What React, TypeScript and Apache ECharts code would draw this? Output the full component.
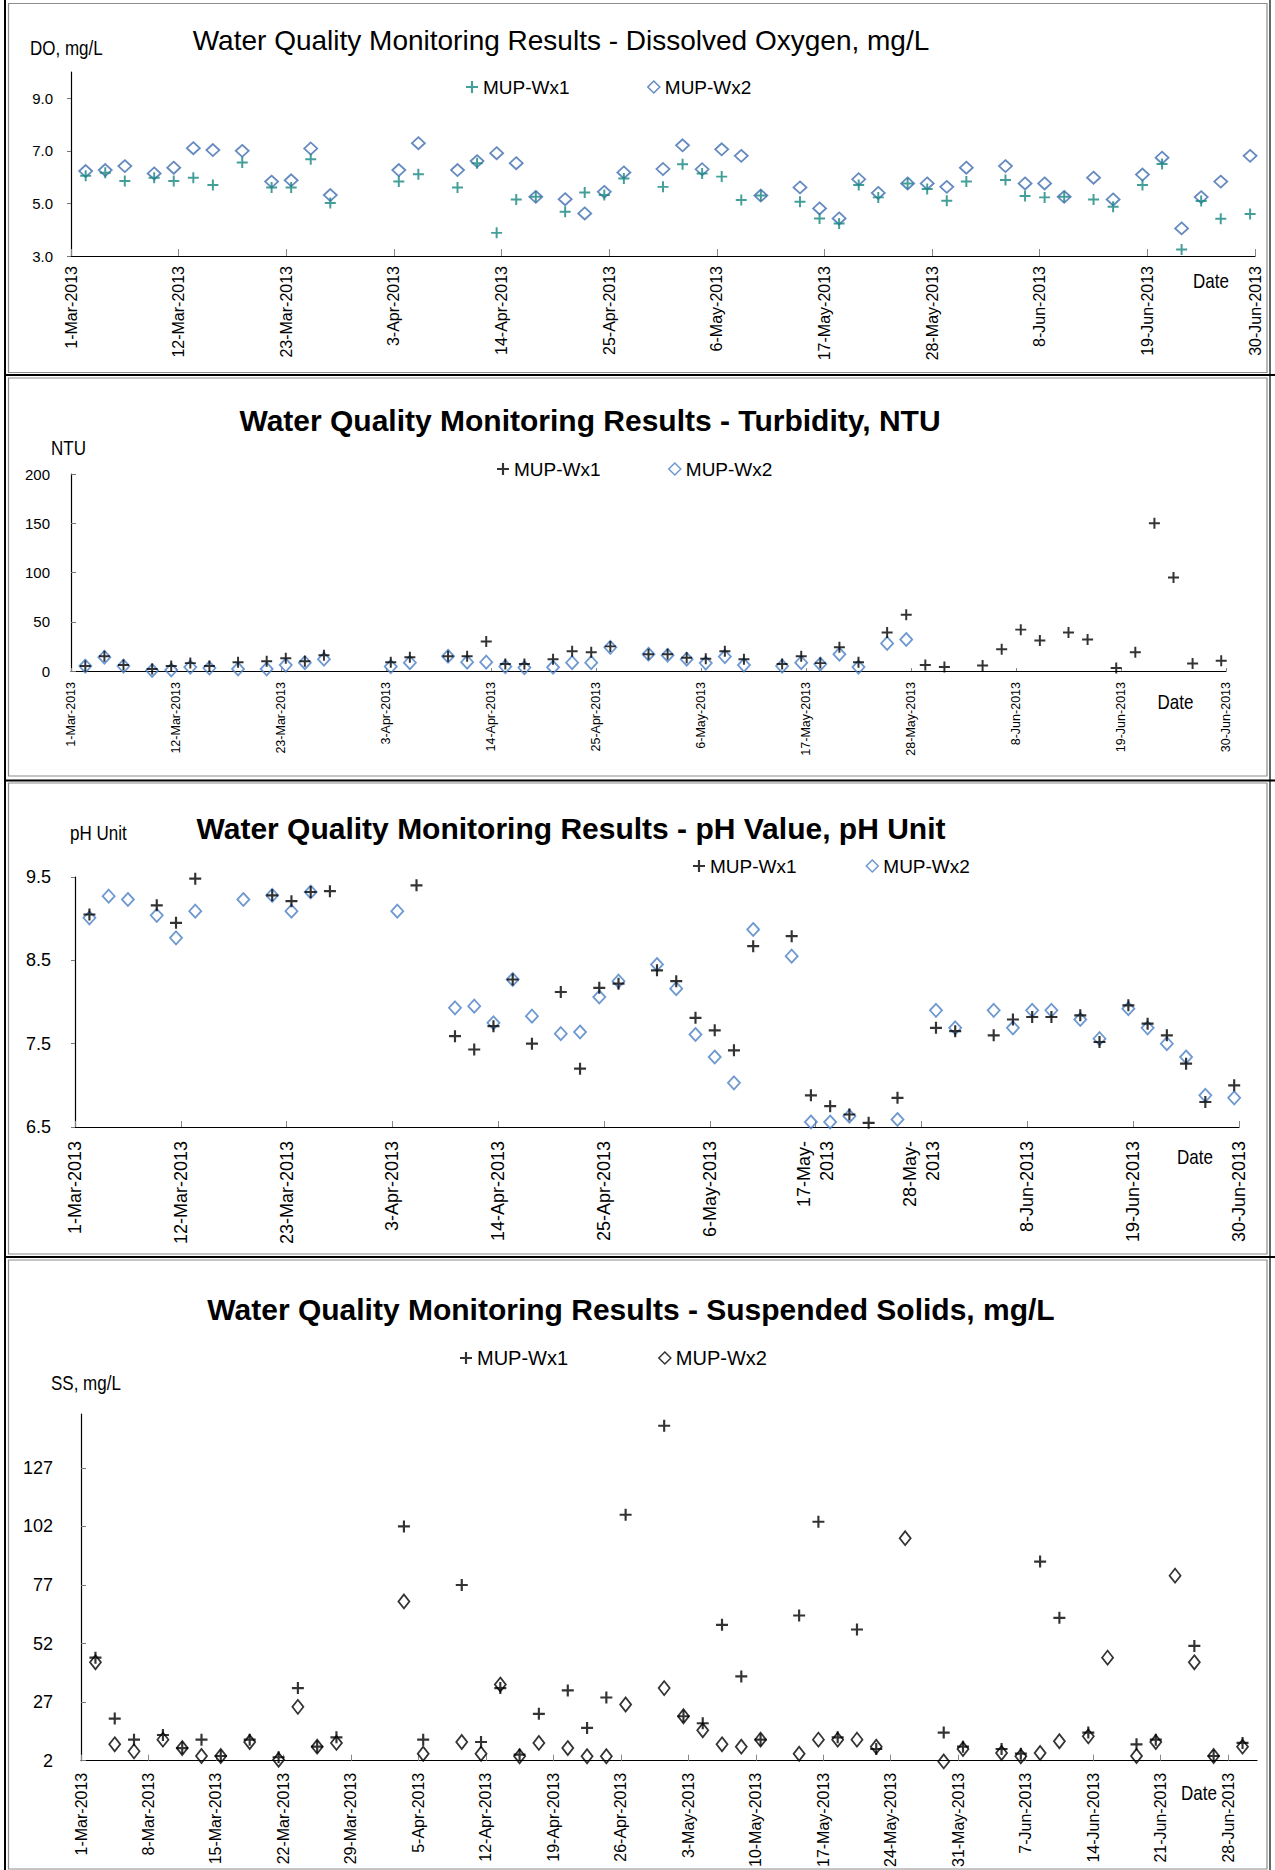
import React, { useEffect, useRef } from 'react';
import * as echarts from 'echarts';

// ---------------- data ----------------
const sampleDates = [
  '2013-03-02', '2013-03-04', '2013-03-06', '2013-03-09', '2013-03-11', '2013-03-13', '2013-03-15',
  '2013-03-18', '2013-03-21', '2013-03-23', '2013-03-25', '2013-03-27', '2013-04-03', '2013-04-05',
  '2013-04-09', '2013-04-11', '2013-04-13', '2013-04-15', '2013-04-17', '2013-04-20', '2013-04-22',
  '2013-04-24', '2013-04-26', '2013-04-30', '2013-05-02', '2013-05-04', '2013-05-06', '2013-05-08',
  '2013-05-10', '2013-05-14', '2013-05-16', '2013-05-18', '2013-05-20', '2013-05-22', '2013-05-25',
  '2013-05-27', '2013-05-29', '2013-05-31', '2013-06-04', '2013-06-06', '2013-06-08', '2013-06-10',
  '2013-06-13', '2013-06-15', '2013-06-18', '2013-06-20', '2013-06-22', '2013-06-24', '2013-06-26',
  '2013-06-29',
];

const doWx1 = [6.05, 6.17, 5.85, 5.98, 5.85, 5.98, 5.7, 6.56, 5.61, 5.61, 6.68, 5.02, 5.83, 6.11, 5.61, 6.53, 3.88, 5.15, 5.25, 4.68, 5.42, 5.32, 5.95, 5.63, 6.49, 6.14, 6.02, 5.13, 5.3, 5.06, 4.43, 4.24, 5.7, 5.23, 5.76, 5.55, 5.1, 5.83, 5.89, 5.28, 5.23, 5.25, 5.15, 4.87, 5.7, 6.5, 3.25, 5.09, 4.42, 4.6];
const doWx2 = [6.23, 6.27, 6.42, 6.14, 6.36, 7.1, 7.03, 7.0, 5.83, 5.88, 7.09, 5.32, 6.27, 7.29, 6.27, 6.61, 6.91, 6.53, 5.25, 5.16, 4.62, 5.44, 6.18, 6.31, 7.21, 6.3, 7.06, 6.81, 5.3, 5.61, 4.81, 4.43, 5.92, 5.4, 5.76, 5.76, 5.63, 6.36, 6.42, 5.76, 5.76, 5.25, 5.98, 5.15, 6.1, 6.74, 4.05, 5.24, 5.83, 6.81];

const turbWx1 = [5, 15, 6, 2, 5, 8, 5, 9, 10, 13, 10, 16, 9, 14, 15, 15, 30, 7, 7, 12, 20, 19, 25, 17, 17, 13.5, 12.5, 20, 12, 7, 15, 8, 24, 9, 39, 57, 6, 4, 5.5, 22, 42, 31, 39, 32, 3, 19, 150, 95, 7.5, 10.5];
const turbWx2 = [5, 14, 5, 0.5, 1, 4, 3, 2, 2, 6, 8.5, 12, 4.5, 8.5, 15, 9, 9, 4.5, 3.5, 3.8, 8.5, 8.5, 24, 17, 16, 12, 8, 14.6, 6, 5, 8.5, 7, 17, 4, 28, 32, null, null, null, null, null, null, null, null, null, null, null, null, null, null];

const phWx1 = [9.05, null, null, 9.16, 8.95, 9.48, null, null, 9.28, 9.21, 9.32, 9.33, null, 9.4, 7.59, 7.43, 7.71, 8.27, 7.5, 8.12, 7.2, 8.17, 8.22, 8.38, 8.25, 7.81, 7.66, 7.42, 8.67, 8.79, 6.88, 6.75, 6.65, 6.55, 6.85, null, 7.69, 7.65, 7.6, 7.79, 7.82, 7.82, 7.84, 7.52, 7.96, 7.74, 7.6, 7.26, 6.8, 7.0];
const phWx2 = [9.01, 9.27, 9.23, 9.04, 8.77, 9.09, null, 9.23, 9.28, 9.09, 9.32, null, 9.09, null, 7.93, 7.95, 7.75, 8.27, 7.83, 7.62, 7.64, 8.06, 8.25, 8.45, 8.16, 7.61, 7.34, 7.03, 8.87, 8.55, 6.56, 6.56, 6.63, null, 6.59, null, 7.9, 7.69, 7.9, 7.69, 7.9, 7.9, 7.79, 7.56, 7.92, 7.69, 7.5, 7.34, 6.88, 6.85];

const ssWx1 = [46, 20, 11, 13, 7.4, 11, 4, 11, 3.5, 33, 8, 12, 102, 11, 77, 10, 33, 4.6, 22, 32, 16, 29, 107, 145, 21, 18, 60, 38, 11, 64, 104, 12, 58, 7, null, null, 14, 8, 7, 5, 87, 63, 14, null, 9, 11, null, 51, 4, 9.6];
const ssWx2 = [44, 9, 6, 11, 7.4, 4, 4, 10, 2.4, 25, 8, 9.6, 70, 5, 10, 5, 34.5, 3.9, 9.6, 7.4, 3.9, 3.9, 26, 33, 21, 15, 9, 8, 11, 5, 11, 11, 11, 8, 97, null, 1.7, 7, 5.3, 3.9, 5.3, 10.3, 12.4, 46, 4, 10, 81, 44, 4, 8];

const ticks11 = ['1-Mar-2013', '12-Mar-2013', '23-Mar-2013', '3-Apr-2013', '14-Apr-2013', '25-Apr-2013', '6-May-2013', '17-May-2013', '28-May-2013', '8-Jun-2013', '19-Jun-2013', '30-Jun-2013'];
const ticks7 = ['1-Mar-2013', '8-Mar-2013', '15-Mar-2013', '22-Mar-2013', '29-Mar-2013', '5-Apr-2013', '12-Apr-2013', '19-Apr-2013', '26-Apr-2013', '3-May-2013', '10-May-2013', '17-May-2013', '24-May-2013', '31-May-2013', '7-Jun-2013', '14-Jun-2013', '21-Jun-2013', '28-Jun-2013'];
const phWrappedTicks = ['17-May-2013', '28-May-2013'];

const seriesNames = ['MUP-Wx1', 'MUP-Wx2'];

// ---------------- helpers ----------------
const START = Date.UTC(2013, 2, 1);
const dayOf = (s: string) => (Date.parse(s + 'T12:00:00Z') - START) / 86400000;
const pairs = (vals: (number | null)[]) =>
  sampleDates
    .map((d, i) => (vals[i] == null ? null : [dayOf(d), vals[i] as number]))
    .filter((p) => p !== null);

const FONT = "'Liberation Sans', Arial, sans-serif";
const PLUS = 'path://M4.1,0H5.9V4.1H10V5.9H5.9V10H4.1V5.9H0V4.1H4.1Z';

const panels = [
  {
    title: 'Water Quality Monitoring Results - Dissolved Oxygen, mg/L',
    titleX: 561, titleY: 40, titleSize: 28, titleWeight: 'normal',
    yName: 'DO, mg/L', yNameX: 30, yNameY: 48,
    dateX: 1211, dateY: 281,
    grid: { left: 71, top: 72, width: 1184, height: 184 },
    xMax: 121, xInt: 11, xLabels: ticks11, xFont: 16, xMargin: 10, xTick: 7, wrap: false,
    yMin: 3, yMax: 10, yInt: 2, yDec: 1, yFont: 15, yMargin: 18, yTick: 4, yInside: false, yShowMax: false,
    legendLeft: 466, legendTop: 77.5, legendGap: 77.5, legendFont: 19,
    c1: '#17877f', c2: '#3f6db0', s1: 11, s2: [13, 12],
    w1: doWx1, w2: doWx2,
  },
  {
    title: 'Water Quality Monitoring Results - Turbidity, NTU',
    titleX: 590, titleY: 420.5, titleSize: 30, titleWeight: 'bold',
    yName: 'NTU', yNameX: 51, yNameY: 448,
    dateX: 1175.5, dateY: 702,
    grid: { left: 71, top: 474, width: 1155, height: 197 },
    xMax: 121, xInt: 11, xLabels: ticks11, xFont: 12.5, xMargin: 11, xTick: 3, wrap: false,
    yMin: 0, yMax: 200, yInt: 50, yDec: 0, yFont: 15, yMargin: 21, yTick: 5, yInside: true, yShowMax: true,
    legendLeft: 497, legendTop: 459.5, legendGap: 67.5, legendFont: 19,
    c1: '#000000', c2: '#4a7ec4', s1: 11, s2: [12, 13],
    w1: turbWx1, w2: turbWx2,
  },
  {
    title: 'Water Quality Monitoring Results - pH Value, pH Unit',
    titleX: 571, titleY: 828, titleSize: 30, titleWeight: 'bold',
    yName: 'pH Unit', yNameX: 70, yNameY: 833,
    dateX: 1195, dateY: 1157,
    grid: { left: 75, top: 877, width: 1164, height: 250 },
    xMax: 121, xInt: 11, xLabels: ticks11, xFont: 18, xMargin: 14, xTick: 6, wrap: true,
    yMin: 6.5, yMax: 9.5, yInt: 1, yDec: 1, yFont: 18, yMargin: 24, yTick: 4, yInside: false, yShowMax: true,
    legendLeft: 693, legendTop: 856.5, legendGap: 69, legendFont: 19,
    c1: '#000000', c2: '#4a7ec4', s1: 12, s2: [12, 13],
    w1: phWx1, w2: phWx2,
  },
  {
    title: 'Water Quality Monitoring Results - Suspended Solids, mg/L',
    titleX: 631, titleY: 1309.5, titleSize: 30, titleWeight: 'bold',
    yName: 'SS, mg/L', yNameX: 51, yNameY: 1383,
    dateX: 1199, dateY: 1793,
    grid: { left: 81, top: 1414, width: 1176, height: 347 },
    xMax: 122, xInt: 7, xLabels: ticks7, xFont: 16, xMargin: 12, xTick: 6, wrap: false,
    yMin: 2, yMax: 150, yInt: 25, yDec: 0, yFont: 18, yMargin: 28, yTick: 5, yInside: true, yShowMax: false,
    legendLeft: 460, legendTop: 1348, legendGap: 90, legendFont: 20,
    c1: '#000000', c2: '#000000', s1: 12, s2: [11, 14],
    w1: ssWx1, w2: ssWx2,
  },
];

const panelBoxes = [
  [8.5, 3.5, 1258.5, 369],
  [8.5, 378, 1258.5, 398],
  [8.5, 783, 1258.5, 471],
  [8.5, 1260, 1258.5, 609],
];
const separatorsY = [375, 780.5, 1257];

function buildOption() {
  const grid: any[] = [];
  const xAxis: any[] = [];
  const yAxis: any[] = [];
  const series: any[] = [];
  const legend: any[] = [];
  const graphics: any[] = [];

  panels.forEach((p, i) => {
    grid.push({ ...p.grid, containLabel: false });
    xAxis.push({
      type: 'value', gridIndex: i, min: 0, max: p.xMax, interval: p.xInt,
      splitLine: { show: false },
      axisLine: { show: true, onZero: false, lineStyle: { color: '#000', width: 1.2 } },
      axisTick: { show: true, inside: true, length: p.xTick, lineStyle: { color: '#888' } },
      axisLabel: {
        rotate: 90, fontSize: p.xFont, margin: p.xMargin, color: '#000', fontFamily: FONT,
        showMaxLabel: p.xMax % p.xInt === 0, lineHeight: p.xFont * 1.25,
        formatter: (v: number) => {
          if (Math.abs(v % p.xInt) > 1e-6) return '';
          const lab = p.xLabels[Math.round(v / p.xInt)];
          if (!lab) return '';
          if (p.wrap && phWrappedTicks.includes(lab)) return lab.replace('-2013', '-\n2013');
          return lab;
        },
      },
    });
    yAxis.push({
      type: 'value', gridIndex: i, min: p.yMin, max: p.yMax, interval: p.yInt,
      splitLine: { show: false },
      axisLine: { show: true, onZero: false, lineStyle: { color: '#000', width: 1.2 } },
      axisTick: { show: true, inside: p.yInside, length: p.yTick, lineStyle: { color: '#777' } },
      axisLabel: {
        fontSize: p.yFont, margin: p.yMargin, color: '#000', fontFamily: FONT,
        showMinLabel: true, showMaxLabel: p.yShowMax,
        formatter: (v: number) => v.toFixed(p.yDec),
      },
    });
    series.push({
      type: 'scatter', name: seriesNames[0], xAxisIndex: i, yAxisIndex: i,
      data: pairs(p.w1), symbol: PLUS, symbolSize: p.s1, clip: false, z: 3,
      itemStyle: { color: p.c1, borderWidth: 0 }, emphasis: { disabled: true },
    });
    series.push({
      type: 'scatter', name: seriesNames[1], xAxisIndex: i, yAxisIndex: i,
      data: pairs(p.w2), symbol: 'diamond', symbolSize: p.s2, clip: false, z: 2,
      itemStyle: { color: 'rgba(0,0,0,0)', borderColor: p.c2, borderWidth: 1.8 },
      emphasis: { disabled: true },
    });
    legend.push({
      left: p.legendLeft, top: p.legendTop, padding: 0, itemGap: p.legendGap,
      itemWidth: 12, itemHeight: 12, selectedMode: false,
      textStyle: { fontSize: p.legendFont, color: '#000', fontFamily: FONT },
      data: [
        { name: seriesNames[0], icon: PLUS, itemStyle: { color: p.c1, borderWidth: 0 } },
        { name: seriesNames[1], icon: 'diamond', itemStyle: { color: 'rgba(0,0,0,0)', borderColor: p.c2, borderWidth: 1.5 } },
      ],
    });
    graphics.push({
      type: 'text', x: p.titleX, y: p.titleY, silent: true,
      style: {
        text: p.title, fontSize: p.titleSize, fontWeight: p.titleWeight, fontFamily: FONT, fill: '#000',
        align: 'center', verticalAlign: 'middle', textAlign: 'center', textVerticalAlign: 'middle',
      },
    });
    graphics.push({
      type: 'text', x: p.yNameX, y: p.yNameY, scaleX: 0.85, silent: true,
      style: {
        text: p.yName, fontSize: 20, fontFamily: FONT, fill: '#000',
        align: 'left', verticalAlign: 'middle', textAlign: 'left', textVerticalAlign: 'middle',
      },
    });
    graphics.push({
      type: 'text', x: p.dateX, y: p.dateY, scaleX: 0.85, silent: true,
      style: {
        text: 'Date', fontSize: 20, fontFamily: FONT, fill: '#000',
        align: 'center', verticalAlign: 'middle', textAlign: 'center', textVerticalAlign: 'middle',
      },
    });
  });

  panelBoxes.forEach(([x, y, w, h]) => {
    graphics.push({
      type: 'rect', silent: true, shape: { x, y, width: w, height: h },
      style: { fill: 'none', stroke: '#8c8c8c', lineWidth: 1.2 },
    });
  });
  separatorsY.forEach((y) => {
    graphics.push({
      type: 'line', silent: true, shape: { x1: 4, y1: y, x2: 1275, y2: y },
      style: { stroke: '#000', lineWidth: 2 },
    });
  });
  graphics.push({ type: 'line', silent: true, shape: { x1: 5, y1: 0, x2: 5, y2: 1870 }, style: { stroke: '#000', lineWidth: 2 } });
  graphics.push({ type: 'line', silent: true, shape: { x1: 1270, y1: 0, x2: 1270, y2: 1870 }, style: { stroke: '#000', lineWidth: 1.2 } });

  return {
    animation: false,
    backgroundColor: '#ffffff',
    textStyle: { fontFamily: FONT, color: '#000' },
    grid, xAxis, yAxis, series, legend,
    graphic: { elements: graphics },
  };
}

export default function App() {
  const ref = useRef<HTMLDivElement>(null);
  useEffect(() => {
    if (!ref.current) return;
    const chart = echarts.init(ref.current, undefined, { renderer: 'svg' });
    chart.setOption(buildOption() as any);
    return () => chart.dispose();
  }, []);
  return (
    <div
      ref={ref}
      style={{ position: 'absolute', left: 0, top: 0, width: 1275, height: 1870, background: '#fff' }}
    />
  );
}
